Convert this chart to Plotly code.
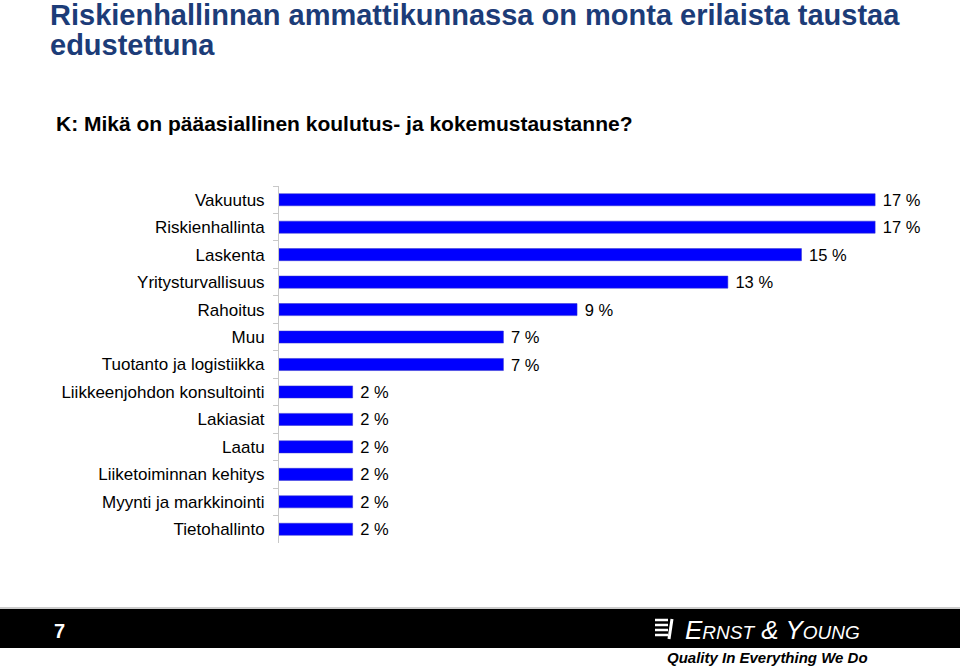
import plotly.graph_objects as go

categories = ['Vakuutus', 'Riskienhallinta', 'Laskenta', 'Yritysturvallisuus', 'Rahoitus', 'Muu',
              'Tuotanto ja logistiikka', 'Liikkeenjohdon konsultointi', 'Lakiasiat', 'Laatu',
              'Liiketoiminnan kehitys', 'Myynti ja markkinointi', 'Tietohallinto']
values = [17.0, 17.0, 14.9, 12.8, 8.5, 6.4, 6.4, 2.1, 2.1, 2.1, 2.1, 2.1, 2.1]
value_labels = ['17 %', '17 %', '15 %', '13 %', '9 %', '7 %', '7 %', '2 %', '2 %', '2 %', '2 %', '2 %', '2 %']

title_line1 = 'Riskienhallinnan ammattikunnassa on monta erilaista taustaa'
title_line2 = 'edustettuna'
question = 'K: Mikä on pääasiallinen koulutus- ja kokemustaustanne?'
page_no = '7'

W, H = 960, 667
L, R, T, B = 279, 940, 186, 543

def px_x(x):
    return (x - L) / (R - L)

def px_y(y):
    return (B - y) / (B - T)

font_family = 'Liberation Sans, Arial, sans-serif'
narrow = 'Liberation Sans Narrow, Liberation Sans, Arial'

fig = go.Figure(go.Bar(
    x=values,
    y=categories,
    orientation='h',
    marker=dict(color='#0000FF', line=dict(color='#3333CC', width=0.5)),
    text=[' ' + t for t in value_labels],
    textposition='outside',
    constraintext='none',
    textfont=dict(size=16.5, color='black', family=font_family),
    cliponaxis=False,
    width=0.44,
))

def note(text, x, y, xanchor='left', yanchor='middle', **font):
    return dict(text=text, x=px_x(x), y=px_y(y), xref='paper', yref='paper',
                xanchor=xanchor, yanchor=yanchor, align='left', showarrow=False, font=font)

annotations = [
    note('<b>' + title_line1 + '</b>', 48, 15, size=29, color='#1C3C78', family=font_family),
    note('<b>' + title_line2 + '</b>', 48, 45, size=29, color='#1C3C78', family=font_family),
    note('<b>' + question + '</b>', 54, 124, size=21, color='black', family=font_family),
    note('<b>' + page_no + '</b>', 52, 631, size=20, color='white', family=font_family),
    note('<i>E<span style="font-size:19px">RNST</span> &amp; Y<span style="font-size:19px">OUNG</span></i>',
         683, 630, size=26, color='white', family=narrow),
    note('<b><i>Quality In Everything We Do</i></b>', 870, 657, xanchor='right',
         size=15, color='black', family=narrow),
]

shapes = [
    dict(type='rect', xref='paper', yref='paper', x0=px_x(0), x1=px_x(960),
         y0=px_y(648), y1=px_y(609), fillcolor='black', line=dict(width=0), layer='below'),
    dict(type='line', xref='paper', yref='paper', x0=px_x(0), x1=px_x(960),
         y0=px_y(608), y1=px_y(608), line=dict(color='#999999', width=1)),
]
# little logo bars
for yy in [620, 625, 630, 635]:
    shapes.append(dict(type='line', xref='paper', yref='paper', x0=px_x(655), x1=px_x(668),
                       y0=px_y(yy), y1=px_y(yy), line=dict(color='white', width=2.5)))
shapes.append(dict(type='line', xref='paper', yref='paper', x0=px_x(672), x1=px_x(669),
                   y0=px_y(619), y1=px_y(639), line=dict(color='white', width=3)))

fig.update_layout(
    width=W,
    height=H,
    margin=dict(l=L, r=W - R, t=T, b=H - B, pad=0),
    paper_bgcolor='white',
    plot_bgcolor='white',
    showlegend=False,
    font=dict(family=font_family, size=15, color='black'),
    annotations=annotations,
    shapes=shapes,
    xaxis=dict(range=[0, 18.85], visible=False, fixedrange=True),
    yaxis=dict(
        autorange='reversed',
        showline=True,
        linecolor='#C8C8C8',
        linewidth=1,
        ticks='outside',
        tickson='boundaries',
        ticklen=5,
        tickcolor='#C8C8C8',
        ticklabelstandoff=10,
        tickfont=dict(size=17, color='black', family=font_family),
        showgrid=False,
        fixedrange=True,
    ),
)

fig.write_html('out.html', config={'displayModeBar': False},
               post_script="document.body.style.margin='0';")
